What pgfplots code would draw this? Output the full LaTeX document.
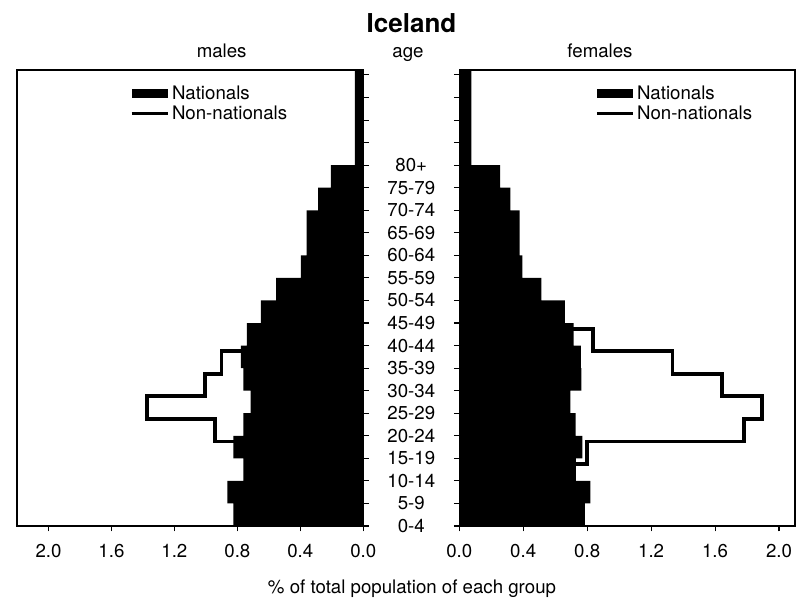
\documentclass[border=0pt]{standalone}
\usepackage{pgfplots}
\pgfplotsset{compat=1.18}
\usepackage{fontspec}
\setmainfont{TeX Gyre Heros}

\begin{document}
\begin{tikzpicture}[font=\fontsize{14}{16}\selectfont]
\path[use as bounding box] (-12.75pt,-55.5pt) rectangle (584.25pt,394.5pt);
\pgfplotsset{
  pyr/.style={
    scale only axis, height=342pt,
    ymin=0, ymax=20.22,
    ytick={0,...,20},
    xtick={0,0.4,0.8,1.2,1.6,2.0},
    /pgf/number format/fixed,
    /pgf/number format/fixed zerofill,
    /pgf/number format/precision=1,
    /pgf/number format/assume math mode=true,
    tick align=outside, major tick length=4pt,
    xtick pos=bottom,
    xticklabel style={yshift=-6pt},
    axis line style={line width=1pt},
    every tick/.style={black, line width=0.8pt},
    legend cell align=left,
    legend style={draw=none, fill=none, inner sep=0pt, row sep=-0.5pt,
      font=\fontsize{14}{16}\selectfont},
  },
  nat/.style={xbar, bar width=1, fill=black, draw=none,
    legend image code/.code={\fill[black] (0pt,-3.4pt) rectangle (27pt,3.4pt);}},
  nonnat/.style={black, line width=2.8pt, mark=none,
    legend image code/.code={\draw[black,line width=2.4pt] (0pt,0pt) -- (27pt,0pt);}},
}

% males
\begin{axis}[pyr, name=L, at={(0pt,0pt)}, anchor=south west, width=259.7pt,
  xmin=0, xmax=2.2, x dir=reverse,
  ytick pos=right, yticklabels={},
  legend style={at={(0.326,0.972)}, anchor=north west}]
\addplot[nat] coordinates {
  (0.825,0.5) (0.863,1.5) (0.762,2.5) (0.825,3.5) (0.762,4.5) (0.715,5.5)
  (0.762,6.5) (0.778,7.5) (0.740,8.5) (0.651,9.5) (0.553,10.5) (0.397,11.5)
  (0.360,12.5) (0.360,13.5) (0.286,14.5) (0.205,15.5)
  (0.053,16.5) (0.053,17.5) (0.053,18.5) (0.053,19.5) (0.053,20.5)
};
\addlegendentry{Nationals}
\addplot[nonnat] coordinates {
  (0.55,0) (0.55,0.75) (0.45,0.75) (0.45,1.75) (0.30,1.75) (0.30,2.75)
  (0.60,2.75) (0.60,3.75) (0.94,3.75) (0.94,4.75) (1.375,4.75) (1.375,5.75)
  (1.005,5.75) (1.005,6.75) (0.90,6.75) (0.90,7.75) (0.70,7.75) (0.70,8.75)
  (0.58,8.75) (0.58,9.75) (0.45,9.75) (0.45,10.75) (0.25,10.75) (0.25,11.75)
  (0.20,11.75) (0.20,12.75) (0.10,12.75) (0.10,13.75) (0.06,13.75) (0.06,14.75)
  (0.04,14.75) (0.04,15.75) (0.02,15.75) (0.02,16.75)
};
\addlegendentry{Non-nationals}
\end{axis}

% females
\begin{axis}[pyr, name=R, at={(331.7pt,0pt)}, anchor=south west, width=251.8pt,
  xmin=0, xmax=2.1,
  ytick pos=left,
  yticklabels={0-4,5-9,10-14,15-19,20-24,25-29,30-34,35-39,40-44,45-49,
    50-54,55-59,60-64,65-69,70-74,75-79,80+,,,,},
  yticklabel style={anchor=center, xshift=-32pt},
  legend style={at={(0.404,0.972)}, anchor=north west}]
\addplot[nat] coordinates {
  (0.785,0.5) (0.820,1.5) (0.730,2.5) (0.770,3.5) (0.728,4.5) (0.695,5.5)
  (0.764,6.5) (0.760,7.5) (0.716,8.5) (0.660,9.5) (0.513,10.5) (0.394,11.5)
  (0.377,12.5) (0.377,13.5) (0.320,14.5) (0.255,15.5)
  (0.075,16.5) (0.075,17.5) (0.075,18.5) (0.075,19.5) (0.075,20.5)
};
\addlegendentry{Nationals}
\addplot[nonnat] coordinates {
  (0.55,0) (0.55,0.75) (0.40,0.75) (0.40,1.75) (0.30,1.75) (0.30,2.75)
  (0.80,2.75) (0.80,3.75) (1.78,3.75) (1.78,4.75) (1.895,4.75) (1.895,5.75)
  (1.645,5.75) (1.645,6.75) (1.333,6.75) (1.333,7.75) (0.835,7.75) (0.835,8.75)
  (0.55,8.75) (0.55,9.75) (0.46,9.75) (0.46,10.75) (0.37,10.75) (0.37,11.75)
  (0.20,11.75) (0.20,12.75) (0.18,12.75) (0.18,13.75) (0.10,13.75) (0.10,14.75)
  (0.08,14.75) (0.08,15.75) (0.05,15.75) (0.05,16.75)
};
\addlegendentry{Non-nationals}
\end{axis}

\node[anchor=base, font=\fontsize{19.5}{22}\selectfont\bfseries] at (295.9pt,369.75pt) {Iceland};
\node[anchor=base] at (153.5pt,351pt) {males};
\node[anchor=base] at (293.25pt,351pt) {age};
\node[anchor=base] at (437.25pt,351pt) {females};
\node[anchor=base] at (296.25pt,-50.25pt) {\% of total population of each group};
\end{tikzpicture}
\end{document}
